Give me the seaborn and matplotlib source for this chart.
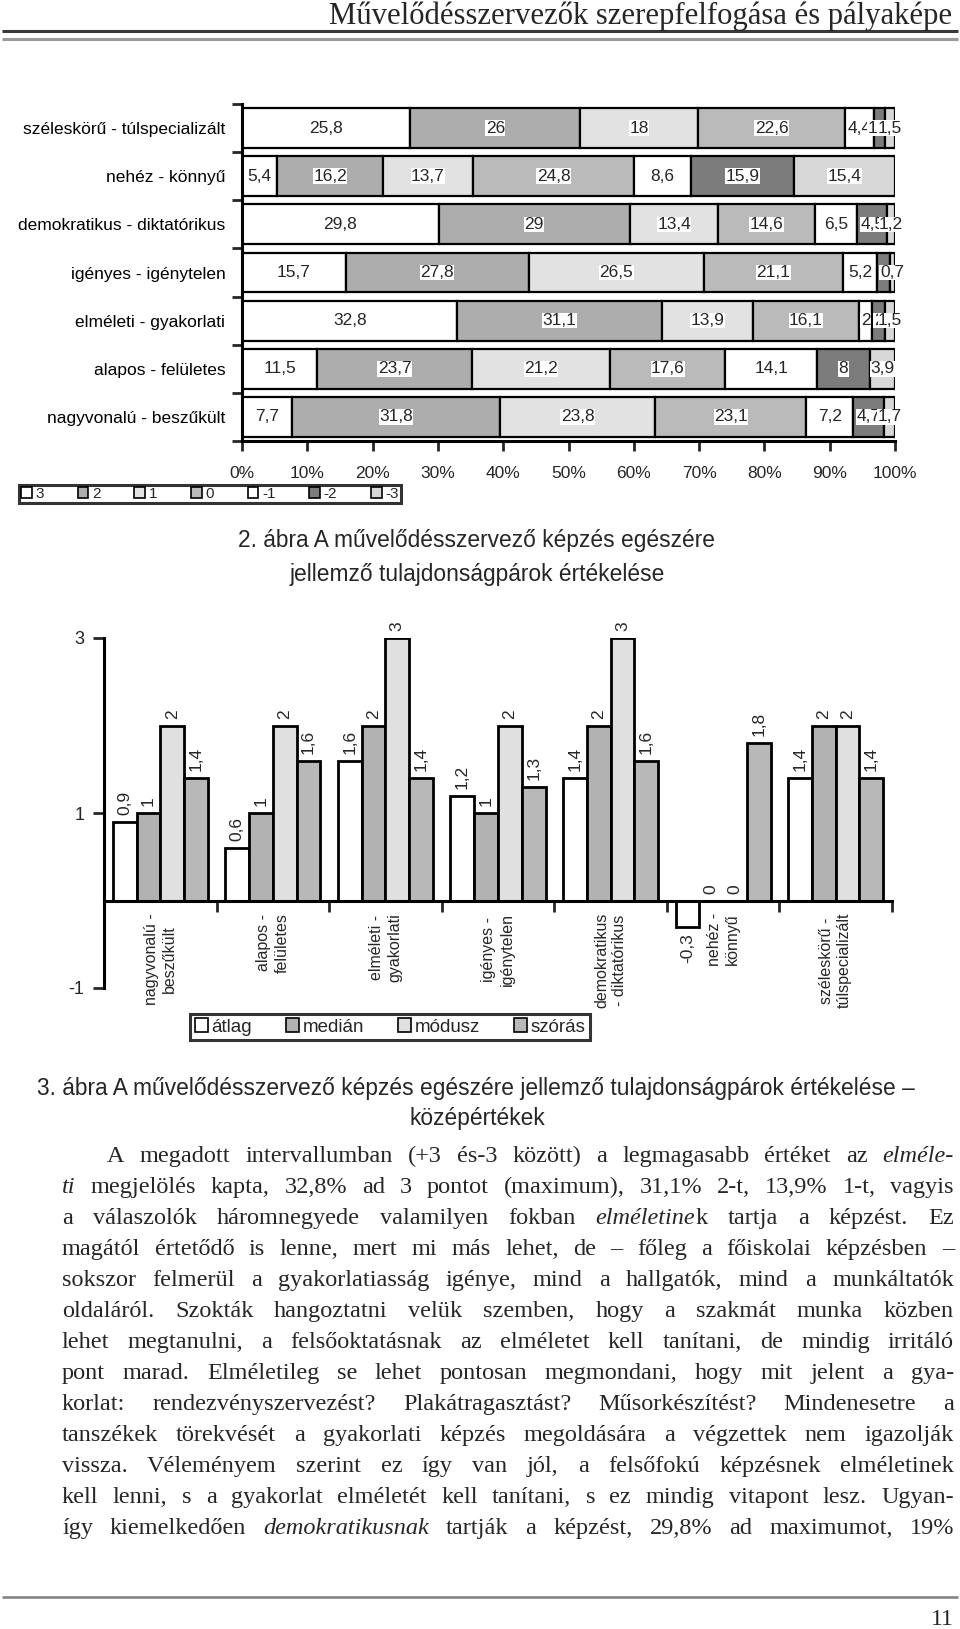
import matplotlib
matplotlib.use("Agg")
import matplotlib.pyplot as plt
from matplotlib.lines import Line2D
from matplotlib.patches import Patch
import seaborn as sns
import numpy as np
import pandas as pd

# ---------------- data: figure 2 (100% stacked) ----------------
pairs_h = ["széleskörű - túlspecializált", "nehéz - könnyű", "demokratikus - diktatórikus",
           "igényes - igénytelen", "elméleti - gyakorlati", "alapos - felületes",
           "nagyvonalú - beszűkült"]
levels = ["3", "2", "1", "0", "-1", "-2", "-3"]
share_p3 = [25.8, 5.4, 29.8, 15.7, 32.8, 11.5, 7.7]
share_p2 = [26, 16.2, 29, 27.8, 31.1, 23.7, 31.8]
share_p1 = [18, 13.7, 13.4, 26.5, 13.9, 21.2, 23.8]
share_0 = [22.6, 24.8, 14.6, 21.1, 16.1, 17.6, 23.1]
share_m1 = [4.4, 8.6, 6.5, 5.2, 2, 14.1, 7.2]
share_m2 = [1.7, 15.9, 4.5, 2, 2, 8, 4.7]
share_m3 = [1.5, 15.4, 1.2, 0.7, 1.5, 3.9, 1.7]
pct_ticks = [0, 10, 20, 30, 40, 50, 60, 70, 80, 90, 100]

# ---------------- data: figure 3 (grouped bars) ----------------
pairs_v = ["nagyvonalú -\nbeszűkült", "alapos -\nfelületes", "elméleti -\ngyakorlati",
           "igényes -\nigénytelen", "demokratikus\n- diktatórikus", "nehéz -\nkönnyű",
           "széleskörű -\ntúlspecializált"]
stats = ["átlag", "medián", "módusz", "szórás"]
atlag = [0.9, 0.6, 1.6, 1.2, 1.4, -0.3, 1.4]
median = [1, 1, 2, 1, 2, 0, 2]
modusz = [2, 2, 3, 2, 3, 0, 2]
szoras = [1.4, 1.6, 1.4, 1.3, 1.6, 1.8, 1.4]
y_ticks2 = [-1, 1, 3]

# ---------------- texts ----------------
header = "Művelődésszervezők szerepfelfogása és pályaképe"
caption2 = ["2. ábra A művelődésszervező képzés egészére",
            "jellemző tulajdonságpárok értékelése"]
caption3 = ["3. ábra A művelődésszervező képzés egészére jellemző tulajdonságpárok értékelése –",
            "középértékek"]
body = [
    "A megadott intervallumban (+3 és-3 között) a legmagasabb értéket az _elméle-_",
    "_ti_ megjelölés kapta, 32,8% ad 3 pontot (maximum), 31,1% 2-t, 13,9% 1-t, vagyis",
    "a válaszolók háromnegyede valamilyen fokban _elméletine_k tartja a képzést. Ez",
    "magától értetődő is lenne, mert mi más lehet, de – főleg a főiskolai képzésben –",
    "sokszor felmerül a gyakorlatiasság igénye, mind a hallgatók, mind a munkáltatók",
    "oldaláról. Szokták hangoztatni velük szemben, hogy a szakmát munka közben",
    "lehet megtanulni, a felsőoktatásnak az elméletet kell tanítani, de mindig irritáló",
    "pont marad. Elméletileg se lehet pontosan megmondani, hogy mit jelent a gya-",
    "korlat: rendezvényszervezést? Plakátragasztást? Műsorkészítést? Mindenesetre a",
    "tanszékek törekvését a gyakorlati képzés megoldására a végzettek nem igazolják",
    "vissza. Véleményem szerint ez így van jól, a felsőfokú képzésnek elméletinek",
    "kell lenni, s a gyakorlat elméletét kell tanítani, s ez mindig vitapont lesz. Ugyan-",
    "így kiemelkedően _demokratikusnak_ tartják a képzést, 29,8% ad maximumot, 19%",
]
page_no = "11"

# ---------------- setup ----------------
sns.set_theme(style="white")
plt.rcParams["font.family"] = ["Liberation Sans", "DejaVu Sans"]
SANS = ["Liberation Sans", "DejaVu Sans"]
NARROW = ["Liberation Sans Narrow", "Liberation Sans", "DejaVu Sans"]
SERIF = ["Liberation Serif", "DejaVu Serif"]

W, H = 960, 1629
fig = plt.figure(figsize=(W / 100, H / 100), dpi=100)
fig.patch.set_facecolor("white")
renderer = fig.canvas.get_renderer()


def fx(x):
    return x / W


def fy(y):
    return 1 - y / H


def hline(x0, x1, y, lw, color):
    fig.add_artist(Line2D([fx(x0), fx(x1)], [fy(y), fy(y)], transform=fig.transFigure,
                          lw=lw, color=color, solid_capstyle="butt"))


def fit_text(x, y, s, target_w, ha="center", va="center", family=SANS, **kw):
    t = fig.text(fx(x), fy(y), s, ha=ha, va=va, fontsize=20, family=family, **kw)
    w = t.get_window_extent(renderer).width
    fs = 20 * target_w / w
    t.set_fontsize(fs)
    return fs


def fmt(v):
    return f"{v:g}".replace(".", ",")


# ---------------- header ----------------
fit_text(952, 16, header, 622, ha="right", va="center", family=SERIF)
hline(2, 958, 31, 2.2, "#3a3a3a")
hline(2, 958, 39, 2.2, "#9a9a9a")

# ---------------- figure 2: stacked 100% bars ----------------
colors1 = ["#ffffff", "#adadad", "#e2e2e2", "#bababa", "#ffffff", "#7c7c7c", "#d8d8d8"]
df1 = pd.DataFrame({"3": share_p3, "2": share_p2, "1": share_p1, "0": share_0,
                    "-1": share_m1, "-2": share_m2, "-3": share_m3}, index=pairs_h)
norm1 = df1.div(df1.sum(axis=1), axis=0) * 100

ax1 = fig.add_axes([fx(242), fy(441), (895 - 242) / W, (441 - 104) / H])
ypos = np.arange(len(pairs_h))
left = np.zeros(len(pairs_h))
for lev, col in zip(levels, colors1):
    widths = norm1[lev].values
    ax1.barh(ypos, widths, left=left, height=0.83, color=col, edgecolor="black", linewidth=1.6,
             zorder=2)
    for yi, (l, w, raw) in enumerate(zip(left, widths, df1[lev].values)):
        ax1.text(l + w / 2, yi, fmt(raw), ha="center", va="center", fontsize=12.5,
                 family=SANS, zorder=4,
                 bbox=dict(boxstyle="square,pad=0.02", fc="white", ec="none"))
    left = left + widths

ax1.set_xlim(0, 100)
ax1.set_ylim(len(pairs_h) - 0.5, -0.5)
ax1.set_yticks(ypos)
ax1.set_yticklabels(pairs_h, fontsize=12.5)
ax1.set_yticks(np.arange(-0.5, len(pairs_h), 1), minor=True)
ax1.set_xticks(pct_ticks)
ax1.set_xticklabels([f"{p}%" for p in pct_ticks], fontsize=12.5)
ax1.tick_params(axis="y", which="major", length=0, pad=12, colors="black")
ax1.tick_params(axis="y", which="minor", left=True, direction="out", length=7, width=2)
ax1.tick_params(axis="x", bottom=True, direction="out", length=7, width=2, pad=11)
for sp in ["top", "right"]:
    ax1.spines[sp].set_visible(False)
for sp in ["left", "bottom"]:
    ax1.spines[sp].set_linewidth(2.2)
    ax1.spines[sp].set_color("black")
ax1.set_facecolor("white")
ax1.grid(False)

h1 = [Patch(facecolor=c, edgecolor="black", lw=1.2) for c in colors1]
leg1 = fig.legend(h1, levels, ncol=7, loc="center", bbox_to_anchor=(fx(210), fy(494)),
                  frameon=True, fancybox=False, handlelength=0.7,
                  handleheight=0.7, handletextpad=0.25, columnspacing=2.2, borderpad=0.15,
                  prop={"family": NARROW, "size": 11})
leg1.get_frame().set_edgecolor("black")
leg1.get_frame().set_linewidth(2.2)

fs_cap = fit_text(476, 1089, caption3[0], 876, family=NARROW)
fig.text(fx(477), fy(541), caption2[0], ha="center", va="center", fontsize=fs_cap, family=NARROW)
fig.text(fx(477), fy(575), caption2[1], ha="center", va="center", fontsize=fs_cap, family=NARROW)

# ---------------- figure 3: grouped bars ----------------
colors2 = {"átlag": "#ffffff", "medián": "#b2b2b2", "módusz": "#e0e0e0", "szórás": "#b8b8b8"}
df2 = pd.DataFrame({"pair": pairs_v, "átlag": atlag, "medián": median,
                    "módusz": modusz, "szórás": szoras})
long2 = df2.melt(id_vars="pair", var_name="stat", value_name="value")

ax2 = fig.add_axes([fx(104), fy(988), (892 - 104) / W, (988 - 638) / H])
sns.barplot(data=long2, x="pair", y="value", hue="stat", order=pairs_v, hue_order=stats,
            palette=colors2, saturation=1, edgecolor="black", linewidth=2, width=0.845,
            gap=0, errorbar=None, legend=False, ax=ax2, zorder=2)
for cont, st in zip(ax2.containers, stats):
    ax2.bar_label(cont, labels=[fmt(v) for v in df2[st]], rotation=90, padding=5,
                  fontsize=12.5, family=SANS)

ax2.set_xlim(-0.5, len(pairs_v) - 0.5)
ax2.set_ylim(-1, 3)
ax2.set_xlabel("")
ax2.set_ylabel("")
ax2.set_xticks(np.arange(0.5, len(pairs_v), 1))
ax2.set_xticklabels([])
ax2.set_yticks(y_ticks2)
ax2.set_yticklabels([fmt(v) for v in y_ticks2], fontsize=13)
ax2.tick_params(axis="x", bottom=True, direction="out", length=8, width=2)
ax2.tick_params(axis="y", left=True, direction="out", length=8, width=2, pad=6)
ax2.spines["bottom"].set_position(("data", 0))
for sp in ["top", "right"]:
    ax2.spines[sp].set_visible(False)
for sp in ["left", "bottom"]:
    ax2.spines[sp].set_linewidth(2.2)
    ax2.spines[sp].set_color("black")
ax2.set_facecolor("none")
ax2.grid(False)
y_lab = ax2.transData.inverted().transform((0, (H - 913)))[1]
for i, lab in enumerate(pairs_v):
    ax2.text(i, y_lab, lab, rotation=90, ha="center", va="top", multialignment="center",
             fontsize=11.5, family=SANS, linespacing=1.25)

h2 = [Patch(facecolor=colors2[s], edgecolor="black", lw=1.2) for s in stats]
leg2 = fig.legend(h2, stats, ncol=4, loc="center", bbox_to_anchor=(fx(390), fy(1027)),
                  frameon=True, fancybox=False, handlelength=0.7, handleheight=0.7,
                  handletextpad=0.2, columnspacing=1.8, borderpad=0.25,
                  prop={"family": NARROW, "size": 13.5})
leg2.get_frame().set_edgecolor("black")
leg2.get_frame().set_linewidth(2.2)

fig.text(fx(477), fy(1118), caption3[1], ha="center", va="center", fontsize=fs_cap, family=NARROW)

# ---------------- body text (justified) ----------------
X_LEFT, X_RIGHT, INDENT = 62, 954, 45
BASE_FS = 15.5
_cache = {}


def measure(s, ital, fs):
    key = (s, ital, fs)
    if key not in _cache:
        t = fig.text(0, 0, s, fontsize=fs, family=SERIF,
                     style="italic" if ital else "normal")
        _cache[key] = t.get_window_extent(renderer).width
        t.remove()
    return _cache[key]


def parse(line):
    words, cur, seg, ital = [], [], "", False
    for ch in line:
        if ch == "_":
            if seg:
                cur.append((seg, ital))
                seg = ""
            ital = not ital
        elif ch == " ":
            if seg:
                cur.append((seg, ital))
                seg = ""
            if cur:
                words.append(cur)
                cur = []
        else:
            seg += ch
    if seg:
        cur.append((seg, ital))
    if cur:
        words.append(cur)
    return words


parsed = [parse(l) for l in body]
# choose the largest font so that every line keeps at least a thin word gap
ratios = []
for k, words in enumerate(parsed):
    x0 = X_LEFT + (INDENT if k == 0 else 0)
    nat = sum(measure(s, it, BASE_FS) for w in words for s, it in w)
    min_gap = 0.18 * BASE_FS * 100 / 72
    ratios.append((X_RIGHT - x0) / (nat + min_gap * (len(words) - 1)))
BODY_FS = min(17.5, BASE_FS * min(ratios))

for k, words in enumerate(parsed):
    y_base = 1162 + 31 * k
    x0 = X_LEFT + (INDENT if k == 0 else 0)
    wwidths = [sum(measure(s, it, BODY_FS) for s, it in w) for w in words]
    gap = (X_RIGHT - x0 - sum(wwidths)) / max(len(words) - 1, 1)
    x = x0
    for w, ww in zip(words, wwidths):
        xx = x
        for s, it in w:
            fig.text(fx(xx), fy(y_base), s, ha="left", va="baseline", fontsize=BODY_FS,
                     family=SERIF, style="italic" if it else "normal")
            xx += measure(s, it, BODY_FS)
        x += ww + gap

# ---------------- footer ----------------
hline(2, 958, 1597, 2.0, "#8a8a8a")
fig.text(fx(954), fy(1625), page_no, ha="right", va="baseline", fontsize=17, family=SERIF)

fig.savefig("out.png", dpi=100, facecolor="white")
